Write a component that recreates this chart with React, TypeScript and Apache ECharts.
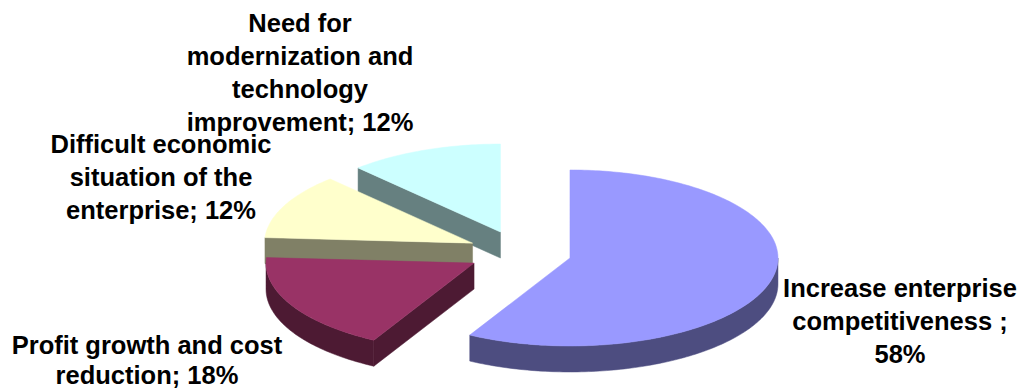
import React, { useEffect, useRef } from "react";
import * as echarts from "echarts";

// ---- data ----
const categories = [
  "Increase enterprise\ncompetitiveness ",
  "Profit growth and cost\nreduction",
  "Difficult economic\nsituation of the\nenterprise",
  "Need for\nmodernization and\ntechnology\nimprovement",
];
const values = [58, 18, 12, 12];
const labelSeparators = ";\n|; |; |; ".split("|");

// ---- styles / layout ----
const topColors = ["#9999FF", "#993366", "#FFFFCC", "#CCFFFF"];
const sideColors = ["#4D4D80", "#4D1A33", "#808066", "#668080"];
const labelPos = [
  [900, 320.5],
  [147, 360],
  [161, 177],
  [300, 72],
];
const labelLineHeights = [33, 30, 33, 33];
const CX = 519.6;
const CY = 252.5;
const RX = 208;
const RY = 88;
const DEPTH = 26;
const EXPLODE = 52;
const K = RY / RX;

function renderItem(params: any, api: any) {
  const i = params.dataIndex;
  const total = values.reduce((a, b) => a + b, 0);
  let before = 0;
  for (let j = 0; j < i; j++) before += values[j];
  const v = api.value(0);
  const TAU = Math.PI * 2;
  const a0 = (before / total) * TAU;
  const a1 = ((before + v) / total) * TAU;
  const mid = (a0 + a1) / 2;
  const ox = CX + EXPLODE * Math.sin(mid);
  const oy = CY - EXPLODE * K * Math.cos(mid);
  const pt = (a: number, dz: number) => [ox + RX * Math.sin(a), oy - RY * Math.cos(a) + dz];
  const arc = (b0: number, b1: number, dz: number) => {
    const n = Math.max(2, Math.ceil((b1 - b0) / (Math.PI / 180)));
    const pts: number[][] = [];
    for (let s = 0; s <= n; s++) pts.push(pt(b0 + ((b1 - b0) * s) / n, dz));
    return pts;
  };
  const base = Math.round(oy) * 10;
  const side = sideColors[i];
  const children: any[] = [];
  const lo = Math.max(a0, Math.PI / 2);
  const hi = Math.min(a1, (3 * Math.PI) / 2);
  if (hi > lo) {
    children.push({
      type: "polygon",
      z2: base + 1,
      shape: { points: [...arc(lo, hi, 0), ...arc(lo, hi, DEPTH).reverse()] },
      style: { fill: side, stroke: side, lineWidth: 0.5 },
    });
  }
  const face = (a: number) => ({
    type: "polygon",
    z2: base,
    shape: { points: [[ox, oy], pt(a, 0), pt(a, DEPTH), [ox, oy + DEPTH]] },
    style: { fill: side, stroke: side, lineWidth: 0.5 },
  });
  if (Math.sin(a0) < -1e-6) children.push(face(a0));
  if (Math.sin(a1) > 1e-6) children.push(face(a1));
  children.push({
    type: "polygon",
    z2: base + 5,
    shape: { points: [[ox, oy], ...arc(a0, a1, 0)] },
    style: { fill: topColors[i], stroke: topColors[i], lineWidth: 0.5 },
  });
  children.push({
    type: "text",
    z2: 10000,
    style: {
      text: categories[i] + labelSeparators[i] + v + "%",
      x: labelPos[i][0],
      y: labelPos[i][1],
      fill: "#000000",
      fontSize: 25.5,
      fontWeight: "bold",
      fontFamily: "Liberation Sans, Arial, sans-serif",
      align: "center",
      verticalAlign: "middle",
      lineHeight: labelLineHeights[i],
    },
  });
  return { type: "group", children };
}

export default function App() {
  const ref = useRef<HTMLDivElement>(null);
  useEffect(() => {
    if (!ref.current) return;
    const chart = echarts.init(ref.current, undefined, { renderer: "svg" });
    chart.setOption({
      animation: false,
      backgroundColor: "#ffffff",
      series: [
        {
          type: "custom",
          coordinateSystem: "none",
          renderItem,
          silent: true,
          data: values.map((v, i) => ({ value: [v], name: categories[i] })),
        },
      ],
    });
    return () => chart.dispose();
  }, []);
  return (
    <div
      ref={ref}
      style={{ position: "fixed", left: 0, top: 0, width: 1019, height: 390, background: "#fff" }}
    />
  );
}
